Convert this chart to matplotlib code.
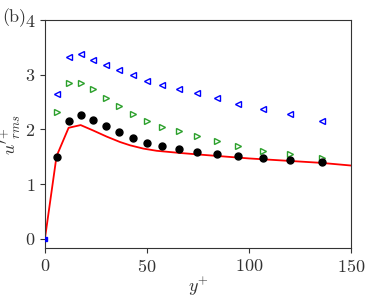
import matplotlib
matplotlib.use("Agg")
import matplotlib.pyplot as plt

# data
y_blue = [6.0, 11.8, 17.5, 23.7, 29.7, 36.1, 43.0, 49.8, 57.4, 65.5, 74.4, 84.2, 94.6, 106.7, 120.1, 135.6]
u_blue = [2.64, 3.32, 3.38, 3.27, 3.18, 3.08, 2.99, 2.89, 2.81, 2.74, 2.66, 2.57, 2.47, 2.38, 2.29, 2.16]

y_green = y_blue
u_green = [2.32, 2.85, 2.84, 2.74, 2.58, 2.43, 2.29, 2.16, 2.05, 1.97, 1.88, 1.79, 1.70, 1.61, 1.56, 1.48]

y_black = y_blue
u_black = [1.50, 2.16, 2.26, 2.18, 2.06, 1.95, 1.85, 1.76, 1.70, 1.64, 1.59, 1.55, 1.51, 1.48, 1.45, 1.41]

y_red = [0, 5.7, 11.6, 17.5, 23.7, 30.2, 36.8, 41.7, 48.2, 54.7, 66.2, 76.0, 100.0, 135.0, 150.0]
u_red = [0, 1.51, 2.03, 2.08, 1.98, 1.87, 1.77, 1.71, 1.65, 1.61, 1.57, 1.54, 1.47, 1.39, 1.34]

plt.rcParams['font.family'] = 'serif'
plt.rcParams['font.serif'] = ['cmr10']
plt.rcParams['mathtext.fontset'] = 'cm'
plt.rcParams['axes.formatter.use_mathtext'] = True

fig = plt.figure(figsize=(3.71, 2.99), dpi=100)
ax = fig.add_axes([0.121, 0.170, 0.826, 0.763])

ax.plot(y_red, u_red, color='red', lw=1.3, zorder=2)
ax.plot(y_blue, u_blue, '<', mfc='none', mec='blue', ms=5, mew=1.0, ls='none')
ax.plot(y_green, u_green, '>', mfc='none', mec='tab:green', ms=5, mew=1.0, ls='none')
ax.plot(y_black, u_black, 'o', color='black', ms=5, ls='none', zorder=3)
ax.plot([0], [0], 's', color='blue', ms=3, zorder=4)

ax.set_xlim(0, 150)
ax.set_ylim(-0.17, 4)
ax.set_xticks([0, 50, 100, 150])
ax.set_yticks([0, 1, 2, 3, 4])
ax.tick_params(labelsize=13, length=3.5, color='#333333', labelcolor='#333333')
for s in ax.spines.values():
    s.set_color('#333333')

ax.set_xlabel(r'$y^{+}$', fontsize=13, color='#333333', labelpad=0)
ax.set_ylabel(r"$u'^{+}_{rms}$", fontsize=13, color='#333333', labelpad=1)
fig.text(0.005, 0.925, '(b)', fontsize=13, color='#333333')

fig.savefig('out.png', dpi=100)
